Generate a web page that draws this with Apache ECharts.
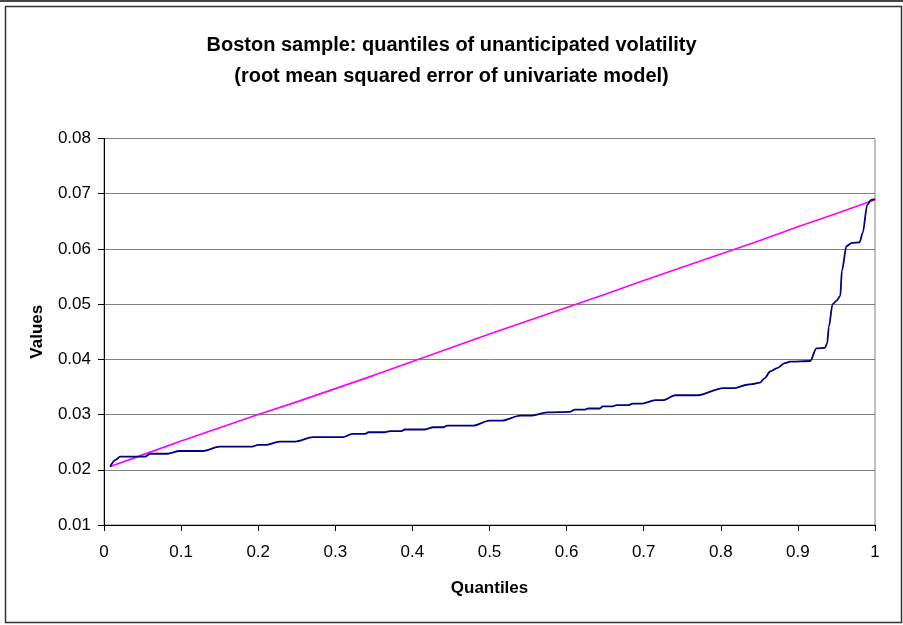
<!DOCTYPE html>
<html>
<head>
<meta charset="utf-8">
<title>Boston sample quantiles</title>
<script src="https://cdn.jsdelivr.net/npm/echarts@6/dist/echarts.min.js"></script>
<style>
    html, body { margin: 0; padding: 0; background: #fff; }
    #chart { width: 903px; height: 625px; }
</style>
</head>
<body>
<div id="chart"></div>
<script>
// tick labels
const xTicks = [0, 0.1, 0.2, 0.3, 0.4, 0.5, 0.6, 0.7, 0.8, 0.9, 1];
const yTicks = [0.01, 0.02, 0.03, 0.04, 0.05, 0.06, 0.07, 0.08];

// navy series: quantiles of the univariate model error
const navyQ = [0.008, 0.015, 0.021, 0.053, 0.06, 0.082, 0.098, 0.128, 0.15, 0.192,
    0.2, 0.209, 0.228, 0.248, 0.271, 0.31, 0.322, 0.339, 0.343, 0.364,
    0.371, 0.386, 0.39, 0.416, 0.427, 0.44, 0.445, 0.479, 0.5, 0.516,
    0.54, 0.553, 0.575, 0.604, 0.611, 0.624, 0.628, 0.643, 0.647, 0.66,
    0.665, 0.68, 0.686, 0.698, 0.715, 0.725, 0.741, 0.77, 0.803, 0.818,
    0.834, 0.84, 0.851, 0.857, 0.864, 0.873, 0.883, 0.89, 0.916, 0.924,
    0.935, 0.938, 0.94, 0.945, 0.95, 0.955, 0.957, 0.963, 0.97, 0.98,
    0.984, 0.99, 0.995, 1.0];
const navyV = [0.0206, 0.0218, 0.0224, 0.0224, 0.0229, 0.0229, 0.0234, 0.0234, 0.0242, 0.0242,
    0.0245, 0.0245, 0.0251, 0.0251, 0.0259, 0.0259, 0.0265, 0.0265, 0.0268, 0.0268,
    0.0270, 0.0270, 0.0273, 0.0273, 0.0277, 0.0277, 0.0280, 0.0280, 0.0289, 0.0289,
    0.0298, 0.0298, 0.0304, 0.0305, 0.0309, 0.0309, 0.0311, 0.0311, 0.0315, 0.0315,
    0.0317, 0.0317, 0.0320, 0.0320, 0.0326, 0.0326, 0.0335, 0.0335, 0.0348, 0.0348,
    0.0354, 0.0355, 0.0358, 0.0366, 0.0378, 0.0384, 0.0393, 0.0396, 0.0397, 0.0420,
    0.0421, 0.0429, 0.0458, 0.0500, 0.0506, 0.0515, 0.0560, 0.0605, 0.0611, 0.0612,
    0.0629, 0.0680, 0.0689, 0.0690];

// magenta series: reference quantiles
const magentaQ = [0.008, 0.05, 0.1, 0.15, 0.2, 0.25, 0.3, 0.35, 0.4, 0.45, 0.5,
    0.55, 0.6, 0.65, 0.7, 0.75, 0.8, 0.85, 0.9, 0.95, 1.0];
const magentaV = [0.0206, 0.0227, 0.0252, 0.0276, 0.0300, 0.0323, 0.0347, 0.0371, 0.0396, 0.0421, 0.0446,
    0.0470, 0.0494, 0.0518, 0.0543, 0.0567, 0.0591, 0.0615, 0.0640, 0.0664, 0.0689];

const pairs = (xs, ys) => xs.map((x, i) => [x, ys[i]]);

const font = 'Arial, "Liberation Sans", sans-serif';

let chartDom = document.getElementById('chart');
let myChart = echarts.init(chartDom, null, { renderer: 'canvas' });

let option = {
    backgroundColor: '#fff',
    animation: false,
    title: {
        text: 'Boston sample: quantiles of unanticipated volatility\n(root mean squared error of univariate model)',
        left: 'center',
        top: 25,
        textStyle: {
            fontFamily: font,
            fontSize: 20,
            fontWeight: 'bold',
            color: '#000',
            lineHeight: 31
        }
    },
    graphic: [
        // outer chart frame (like the Excel chart border)
        { type: 'rect', shape: { x: 0, y: 0, width: 903, height: 2 }, style: { fill: '#444' }, silent: true },
        { type: 'rect', shape: { x: 5.5, y: 6.5, width: 896, height: 616 }, style: { fill: null, stroke: '#333', lineWidth: 1.5 }, silent: true }
    ],
    grid: {
        left: 104,
        right: 28,
        top: 138.5,
        bottom: 100,
        show: true,
        borderColor: '#808080',
        borderWidth: 1,
        backgroundColor: '#fff'
    },
    xAxis: {
        type: 'value',
        min: xTicks[0],
        max: xTicks[xTicks.length - 1],
        interval: 0.1,
        name: 'Quantiles',
        nameLocation: 'middle',
        nameGap: 55,
        nameTextStyle: { fontFamily: font, fontSize: 17, fontWeight: 'bold', color: '#000' },
        axisLine: { show: true, lineStyle: { color: '#000', width: 1 } },
        axisTick: { show: true, inside: false, length: 6, lineStyle: { color: '#000' } },
        axisLabel: {
            margin: 19,
            fontFamily: font,
            fontSize: 17,
            color: '#000',
            formatter: v => String(+v.toFixed(1))
        },
        splitLine: { show: false }
    },
    yAxis: {
        type: 'value',
        min: yTicks[0],
        max: yTicks[yTicks.length - 1],
        interval: 0.01,
        name: 'Values',
        nameLocation: 'middle',
        nameGap: 58,
        nameTextStyle: { fontFamily: font, fontSize: 17, fontWeight: 'bold', color: '#000' },
        axisLine: { show: true, lineStyle: { color: '#000', width: 1 } },
        axisTick: { show: true, inside: false, length: 6, lineStyle: { color: '#000' } },
        axisLabel: {
            margin: 13,
            fontFamily: font,
            fontSize: 17,
            color: '#000',
            formatter: v => v.toFixed(2)
        },
        splitLine: { show: true, lineStyle: { color: '#808080', width: 1 } }
    },
    series: [
        {
            name: 'Reference',
            type: 'line',
            data: pairs(magentaQ, magentaV),
            showSymbol: false,
            lineStyle: { color: '#FF00FF', width: 1.6 },
            itemStyle: { color: '#FF00FF' },
            z: 2
        },
        {
            name: 'Univariate model',
            type: 'line',
            data: pairs(navyQ, navyV),
            showSymbol: false,
            smooth: 0.3,
            smoothMonotone: 'x',
            lineStyle: { color: '#000080', width: 1.8 },
            itemStyle: { color: '#000080' },
            z: 3
        }
    ]
};
option && myChart.setOption(option);
</script>
</body>
</html>
